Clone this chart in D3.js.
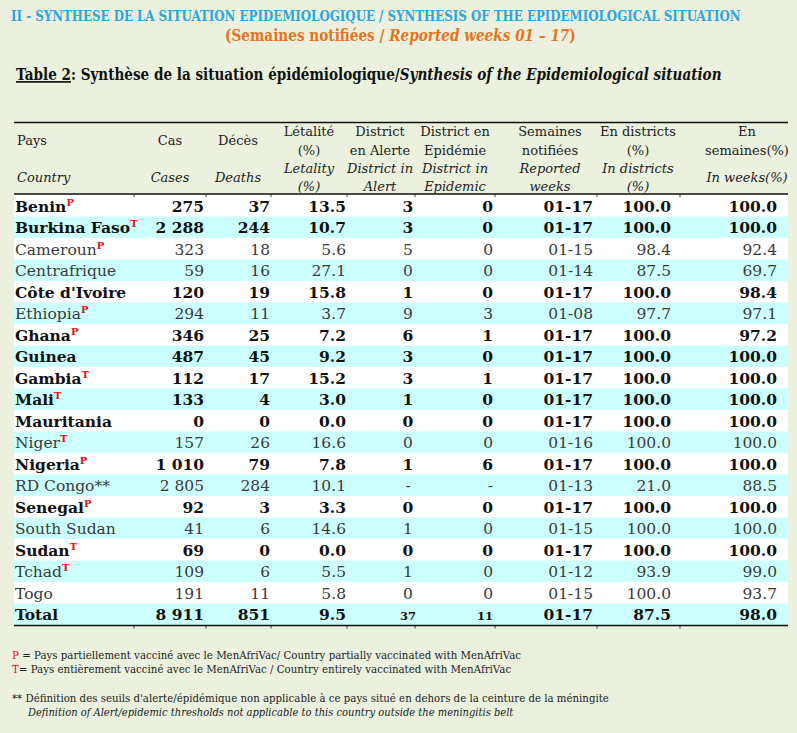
<!DOCTYPE html>
<html>
<head>
<meta charset="utf-8">
<script src="https://cdn.jsdelivr.net/npm/d3@7"></script>
<style>
  body { margin: 0; background: #ebf1de; }
  svg { display: block; }
  text { font-family: "DejaVu Serif", serif; }
</style>
</head>
<body>
<div class="tableChart"></div>
<script>
// table data
var countries = ["Benin", "Burkina Faso", "Cameroun", "Centrafrique", "Côte d'Ivoire", "Ethiopia", "Ghana", "Guinea",
  "Gambia", "Mali", "Mauritania", "Niger", "Nigeria", "RD Congo**", "Senegal", "South Sudan", "Sudan", "Tchad", "Togo"];
var vaccine = ["P", "T", "P", "", "", "P", "P", "", "T", "T", "", "T", "P", "", "P", "", "T", "T", ""];
var boldRow = [1, 1, 0, 0, 1, 0, 1, 1, 1, 1, 1, 0, 1, 0, 1, 0, 1, 0, 0];
var cases = [275, 2288, 323, 59, 120, 294, 346, 487, 112, 133, 0, 157, 1010, 2805, 92, 41, 69, 109, 191];
var deaths = [37, 244, 18, 16, 19, 11, 25, 45, 17, 4, 0, 26, 79, 284, 3, 6, 0, 6, 11];
var letality = [13.5, 10.7, 5.6, 27.1, 15.8, 3.7, 7.2, 9.2, 15.2, 3.0, 0.0, 16.6, 7.8, 10.1, 3.3, 14.6, 0.0, 5.5, 5.8];
var inAlert = [3, 3, 5, 0, 1, 9, 6, 3, 3, 1, 0, 0, 1, "-", 0, 1, 0, 1, 0];
var inEpidemic = [0, 0, 0, 0, 0, 3, 1, 0, 1, 0, 0, 0, 6, "-", 0, 0, 0, 0, 0];
var weeks = ["01-17", "01-17", "01-15", "01-14", "01-17", "01-08", "01-17", "01-17", "01-17", "01-17", "01-17",
  "01-16", "01-17", "01-13", "01-17", "01-15", "01-17", "01-12", "01-15"];
var pctDistricts = [100.0, 100.0, 98.4, 87.5, 100.0, 97.7, 100.0, 100.0, 100.0, 100.0, 100.0, 100.0, 100.0, 21.0,
  100.0, 100.0, 100.0, 93.9, 100.0];
var pctWeeks = [100.0, 100.0, 92.4, 69.7, 98.4, 97.1, 97.2, 100.0, 100.0, 100.0, 100.0, 100.0, 100.0, 88.5,
  100.0, 100.0, 100.0, 99.0, 93.7];
var total = { name: "Total", cases: 8911, deaths: 851, letality: 9.5, alert: 37, epidemic: 11, weeks: "01-17", districts: 87.5, weeksPct: 98.0 };

var columns = ["country", "cases", "deaths", "letality", "alert", "epidemic", "weeks", "districts", "weeksPct"];
// header lines: [french line 1, french line 2, english line 1, english line 2]
var headerLabels = [
  ["Pays", "", "Country", ""],
  ["Cas", "", "Cases", ""],
  ["Décès", "", "Deaths", ""],
  ["Létalité", "(%)", "Letality", "(%)"],
  ["District", "en Alerte", "District in", "Alert"],
  ["District en", "Epidémie", "District in", "Epidemic"],
  ["Semaines", "notifiées", "Reported", "weeks"],
  ["En districts", "(%)", "In districts", "(%)"],
  ["En", "semaines(%)", "In weeks(%)", ""]
];

function drawTable() {
  var width = 797, height = 733;
  var svg = d3.select(".tableChart").append("svg")
    .attr("width", width)
    .attr("height", height);

  var fr = d3.formatLocale({ decimal: ".", thousands: " ", grouping: [3], currency: ["", ""] });
  var fInt = fr.format(",d");
  var f1 = d3.format(".1f");

  // build the rows
  var rows = countries.map(function(c, i) {
    return {
      country: c, sup: vaccine[i], bold: boldRow[i] == 1,
      cases: fInt(cases[i]), deaths: fInt(deaths[i]), letality: f1(letality[i]),
      alert: String(inAlert[i]), epidemic: String(inEpidemic[i]), weeks: weeks[i],
      districts: f1(pctDistricts[i]), weeksPct: f1(pctWeeks[i])
    };
  });
  rows.push({
    country: total.name, sup: "", bold: true, total: true,
    cases: fInt(total.cases), deaths: fInt(total.deaths), letality: f1(total.letality),
    alert: String(total.alert), epidemic: String(total.epidemic), weeks: total.weeks,
    districts: f1(total.districts), weeksPct: f1(total.weeksPct)
  });

  // scales
  var edges = [14, 134, 206, 271, 347, 415, 495, 597, 680, 788];
  var y = d3.scaleBand().domain(d3.range(rows.length)).range([195, 625]);
  var xText = d3.scaleOrdinal().domain(columns).range([15, 204, 270, 346, 408, 493, 593, 671, 777]);
  var anchor = d3.scaleOrdinal().domain(columns).range(["start", "end", "end", "end", "middle", "end", "end", "end", "end"]);
  var xHead = d3.scaleOrdinal().domain(columns).range([17, 170, 238, 309, 380, 455, 550, 638, 747]);

  // squeeze a text line between two x positions
  function fitText(sel, x0, x1) {
    var node = sel.node();
    var w = node.getComputedTextLength();
    sel.attr("transform", "translate(" + x0 + ",0) scale(" + ((x1 - x0) / w) + ",1)").attr("x", 0);
  }

  var t1 = svg.append("text").attr("y", 21).attr("font-size", 15).attr("font-weight", "bold")
    .attr("fill", "#2aa7df").text("II - SYNTHESE DE LA SITUATION EPIDEMIOLOGIQUE / SYNTHESIS OF THE EPIDEMIOLOGICAL SITUATION");
  fitText(t1, 11, 741);

  var t2 = svg.append("text").attr("y", 41).attr("font-size", 16.5).attr("font-weight", "bold").attr("fill", "#e5731f");
  t2.append("tspan").text("(Semaines notifiées / ");
  t2.append("tspan").attr("font-style", "italic").text("Reported weeks 01 – 17");
  t2.append("tspan").text(")");
  fitText(t2, 225, 576);

  var t3 = svg.append("text").attr("y", 80).attr("font-size", 16.5).attr("font-weight", "bold").attr("fill", "#111");
  t3.append("tspan").attr("text-decoration", "underline").text("Table 2");
  t3.append("tspan").text(": Synthèse de la situation épidémiologique/");
  t3.append("tspan").attr("font-style", "italic").text("Synthesis of the Epidemiological situation");
  fitText(t3, 16, 722);

  // row backgrounds
  svg.append("g").selectAll("rect")
    .data(rows)
    .enter().append("rect")
    .attr("x", edges[0])
    .attr("y", function(d, i) { return y(i); })
    .attr("width", edges[edges.length - 1] - edges[0])
    .attr("height", y.bandwidth() + 0.5)
    .attr("fill", function(d, i) { return i % 2 ? "#ccffff" : "#ffffff"; });

  // rules
  var rules = svg.append("g").attr("stroke", "#111");
  rules.append("line").attr("x1", edges[0]).attr("x2", edges[9]).attr("y1", 122.5).attr("y2", 122.5).attr("stroke-width", 1.3);
  [194, 625.5].forEach(function(ry) {
    rules.append("line").attr("x1", edges[0]).attr("x2", edges[9]).attr("y1", ry).attr("y2", ry).attr("stroke-width", 1.3);
    rules.selectAll(null).data(edges.slice(1, 9)).enter().append("line")
      .attr("x1", function(d) { return d; }).attr("x2", function(d) { return d; })
      .attr("y1", ry).attr("y2", ry + 3).attr("stroke-width", 0.8);
  });

  // header
  var head = svg.append("g").attr("font-size", 13).attr("fill", "#222");
  headerLabels.forEach(function(lines, c) {
    var key = columns[c];
    var a = c == 0 ? "start" : "middle";
    var two = lines[1] == "" && lines[3] == "";
    var ys = two ? [145, 0, 182, 0] : [136, 155, 173, 191];
    if (c == 8) ys = [136, 155, 182, 0];
    lines.forEach(function(t, k) {
      if (t == "") return;
      head.append("text")
        .attr("x", xHead(key))
        .attr("y", ys[k])
        .attr("text-anchor", a)
        .attr("font-style", k >= 2 ? "italic" : "normal")
        .text(t);
    });
  });

  // body cells
  var body = svg.append("g");
  rows.forEach(function(r, i) {
    var g = body.append("g")
      .attr("font-weight", r.bold ? "bold" : "normal")
      .attr("fill", r.bold ? "#111" : "#3a3a3a")
      .attr("font-size", 15.5);
    columns.forEach(function(key) {
      var txt = g.append("text")
        .attr("x", xText(key))
        .attr("y", y(i) + y.bandwidth() / 2 + 6)
        .attr("text-anchor", anchor(key))
        .text(r[key]);
      if (r.total && (key == "alert" || key == "epidemic")) txt.attr("font-size", 11.5);
      if (key == "country" && r.sup) {
        txt.append("tspan")
          .attr("dy", -6)
          .attr("font-size", 10)
          .attr("font-weight", "bold")
          .attr("fill", "#e8101a")
          .text(r.sup);
      }
    });
  });

  // footnotes
  var n1 = svg.append("text").attr("y", 659).attr("font-size", 11.5).attr("fill", "#222");
  n1.append("tspan").attr("fill", "#e8101a").text("P");
  n1.append("tspan").text(" = Pays partiellement vacciné avec le MenAfriVac/ Country partially  vaccinated with MenAfriVac");
  fitText(n1, 12, 522);

  var n2 = svg.append("text").attr("y", 673).attr("font-size", 11.5).attr("fill", "#222");
  n2.append("tspan").attr("fill", "#e8101a").text("T");
  n2.append("tspan").text("= Pays entièrement vacciné avec le MenAfriVac / Country entirely  vaccinated with MenAfriVac");
  fitText(n2, 12, 512);

  var n3 = svg.append("text").attr("y", 702).attr("font-size", 11.5).attr("fill", "#222")
    .text("**  Définition des seuils d'alerte/épidémique non applicable à ce pays situé en dehors de la ceinture de la méningite");
  fitText(n3, 12, 610);

  var n4 = svg.append("text").attr("y", 716).attr("font-size", 11.5).attr("fill", "#222").attr("font-style", "italic")
    .text("Definition of Alert/epidemic thresholds not applicable to this country outside the meningitis belt");
  fitText(n4, 28, 514);
}
drawTable();
</script>
</body>
</html>
